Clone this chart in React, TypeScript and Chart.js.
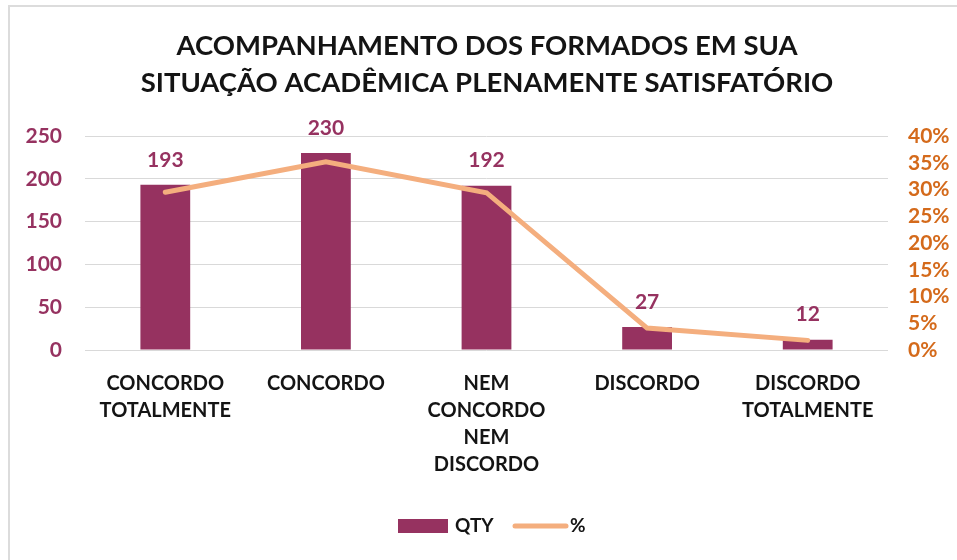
import React, { useEffect, useRef } from "react";
import { Chart, registerables } from "chart.js";

Chart.register(...registerables);

const titleLines = ["ACOMPANHAMENTO DOS FORMADOS EM SUA", "SITUAÇÃO ACADÊMICA PLENAMENTE SATISFATÓRIO"];
const categories: string[][] = [
  ["CONCORDO", "TOTALMENTE"],
  ["CONCORDO"],
  ["NEM", "CONCORDO", "NEM", "DISCORDO"],
  ["DISCORDO"],
  ["DISCORDO", "TOTALMENTE"],
];
const qtyValues = [193, 230, 192, 27, 12];
const pctValues = [0.295, 0.352, 0.294, 0.041, 0.018];
const qtyLabel = "QTY";
const pctLabel = "%";

const BAR = "#963260";
const LINE = "#F4AE7E";
const LEFT_TICK = "#963260";
const RIGHT_TICK = "#D46A1B";
const TEXT = "#141414";
const GRID = "#D9D9D9";
const FONT = "Lato, 'Open Sans', sans-serif";

const dataLabelPlugin = {
  id: "dataLabels",
  afterDatasetsDraw(chart: any) {
    const ctx = chart.ctx;
    const idx = chart.data.datasets.findIndex((d: any) => d.type === "bar");
    const meta = chart.getDatasetMeta(idx);
    ctx.save();
    ctx.font = `bold 21px ${FONT}`;
    ctx.fillStyle = BAR;
    ctx.textAlign = "center";
    ctx.textBaseline = "middle";
    meta.data.forEach((el: any, i: number) => {
      ctx.fillText(String(chart.data.datasets[idx].data[i]), el.x, el.y - 25);
    });
    ctx.restore();
  },
};

const legendPlugin = {
  id: "customLegend",
  afterDraw(chart: any) {
    const ctx = chart.ctx;
    ctx.save();
    ctx.font = `bold 19px ${FONT}`;
    ctx.textBaseline = "middle";
    ctx.textAlign = "left";
    const cy = 526;
    ctx.fillStyle = BAR;
    ctx.fillRect(398, cy - 7, 50, 14);
    ctx.fillStyle = TEXT;
    ctx.fillText(qtyLabel, 455, cy);
    ctx.strokeStyle = LINE;
    ctx.lineWidth = 5;
    ctx.lineCap = "round";
    ctx.beginPath();
    ctx.moveTo(515, cy);
    ctx.lineTo(566, cy);
    ctx.stroke();
    ctx.fillStyle = TEXT;
    ctx.fillText(pctLabel, 570, cy);
    ctx.restore();
  },
};

export default function App() {
  const ref = useRef<HTMLCanvasElement | null>(null);
  useEffect(() => {
    if (!ref.current) return;
    const chart = new Chart(ref.current, {
      type: "bar",
      data: {
        labels: categories,
        datasets: [
          {
            type: "line",
            label: pctLabel,
            data: pctValues,
            yAxisID: "y1",
            borderColor: LINE,
            backgroundColor: LINE,
            borderWidth: 5,
            pointRadius: 0,
            tension: 0,
            order: 0,
            borderCapStyle: "round",
          } as any,
          {
            type: "bar",
            label: qtyLabel,
            data: qtyValues,
            yAxisID: "y",
            backgroundColor: BAR,
            borderWidth: 0,
            categoryPercentage: 1,
            barPercentage: 0.31,
            order: 1,
          } as any,
        ],
      },
      options: {
        responsive: false,
        animation: false,
        layout: { padding: { left: 17, right: 0, top: 0, bottom: 58 } },
        plugins: {
          legend: { display: false },
          tooltip: { enabled: false },
          title: {
            display: true,
            text: titleLines,
            color: TEXT,
            font: { family: FONT, size: 27.5, weight: "bold", lineHeight: "37px" } as any,
            padding: { top: 28, bottom: 34 },
          },
        },
        scales: {
          x: {
            grid: { display: false, drawTicks: false },
            border: { display: false },
            ticks: {
              color: TEXT,
              font: { family: FONT, size: 20, weight: "bold", lineHeight: "27px" } as any,
              padding: 20,
              maxRotation: 0,
              autoSkip: false,
            },
            afterFit(scale: any) {
              scale.height = 152;
            },
          },
          y: {
            position: "left",
            min: 0,
            max: 250,
            ticks: {
              stepSize: 50,
              autoSkip: false,
              color: LEFT_TICK,
              font: { family: FONT, size: 21, weight: "bold", lineHeight: 1 },
              padding: 23,
            },
            grid: { color: GRID, lineWidth: 1, drawTicks: false },
            border: { display: false },
            afterFit(scale: any) {
              scale.width = 68;
            },
          },
          y1: {
            position: "right",
            min: 0,
            max: 0.4,
            ticks: {
              stepSize: 0.05,
              autoSkip: false,
              color: RIGHT_TICK,
              font: { family: FONT, size: 21, weight: "bold", lineHeight: 1 },
              padding: 20,
              callback: (v: any) => Math.round(Number(v) * 100) + "%",
            },
            grid: { drawOnChartArea: false, drawTicks: false },
            border: { display: false },
            afterFit(scale: any) {
              scale.width = 69;
            },
          },
        },
      },
      plugins: [dataLabelPlugin, legendPlugin],
    });
    return () => chart.destroy();
  }, []);
  return (
    <div style={{ position: "fixed", left: 0, top: 0, width: 957, height: 560, background: "#fff" }}>
      <canvas ref={ref} width={957} height={560} style={{ position: "absolute", left: 0, top: 0, width: 957, height: 560 }} />
      <div
        style={{
          position: "absolute",
          left: 8,
          top: 5,
          width: 949,
          height: 555,
          borderTop: "2px solid #DCDCDC",
          borderLeft: "2px solid #DCDCDC",
          boxSizing: "border-box",
          pointerEvents: "none",
        }}
      />
    </div>
  );
}
